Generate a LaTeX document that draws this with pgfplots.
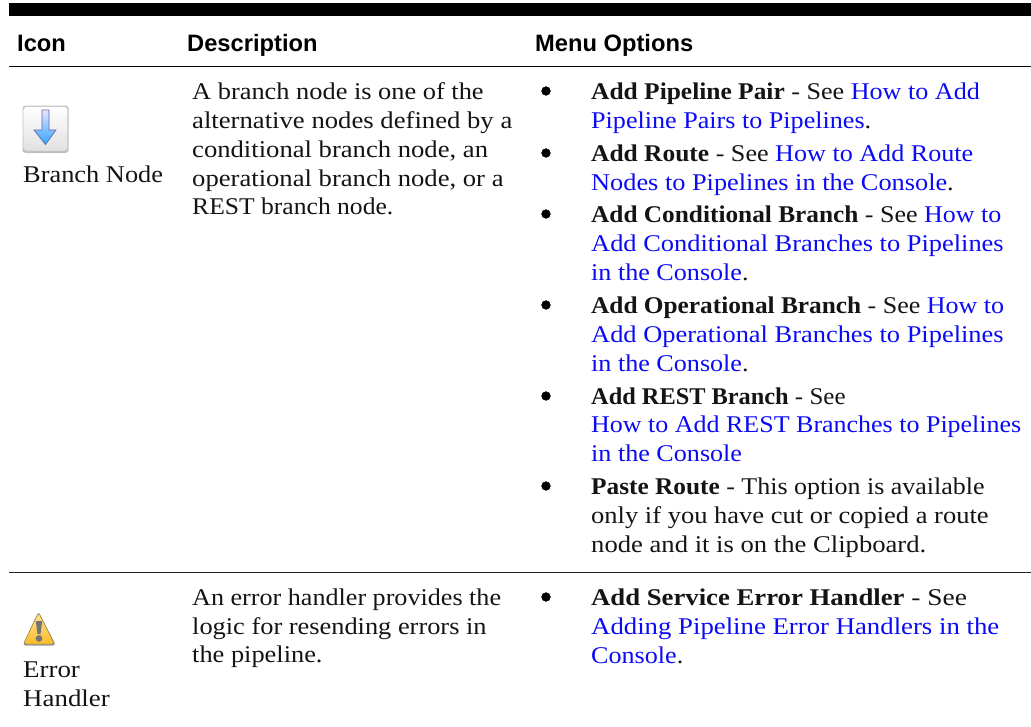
\documentclass[border=0pt]{standalone}
\usepackage{pgfplots}
\pgfplotsset{compat=1.18}
\usepackage{fontspec}
\setmainfont[FakeStretch=1.088,BoldFeatures={FakeStretch=1.06}]{Liberation Serif}
\newfontfamily\headfont{Liberation Sans}
\definecolor{linkblue}{RGB}{10,10,245}
\definecolor{ink}{RGB}{20,20,20}
\definecolor{warntop}{RGB}{250,228,160}
\definecolor{warnbot}{RGB}{250,188,40}
\newcommand{\body}{\fontsize{24}{28}\selectfont\color{ink}}
\newcommand{\lk}[1]{\textcolor{linkblue}{#1}}
\newcommand{\tl}[4][1]{\node[anchor=base west,inner sep=0pt] at (#2,#3) {\scalebox{#1}[1]{\body #4}};}
\newcommand{\hd}[2]{\node[anchor=base west,inner sep=0pt] at (#1,51) {\headfont\bfseries\fontsize{23.7}{26}\selectfont #2};}
\begin{document}
\begin{tikzpicture}
\useasboundingbox (0,0) rectangle (1031pt,726pt);
\begin{axis}[
  at={(0,0)},anchor=south west,
  scale only axis, width=1031pt, height=726pt,
  xmin=0, xmax=1031, ymin=0, ymax=726, y dir=reverse,
  axis lines=none, clip=false]
% rules
\addplot[draw=none,fill=black,forget plot] coordinates {(9,2.5) (1031,2.5) (1031,15.5) (9,15.5)} -- cycle;
\addplot[black,line width=1pt,forget plot] coordinates {(9,66.5) (1031,66.5)};
\addplot[black!85,line width=1pt,forget plot] coordinates {(9,572.5) (1031,572.5)};
% bullets
\addplot[only marks,mark=*,mark size=4.4pt,black,forget plot] coordinates
 {(546,91) (546,153) (546,214) (546,305) (546,396) (546,486) (546,597)};
% header
\hd{17}{Icon}
\hd{187}{Description}
\hd{535}{Menu Options}
% icon column
\fill[black!25,rounded corners=3pt] (22.5,105.5) rectangle (68.5,153);
\shade[top color=white,bottom color=black!12,rounded corners=3pt,draw=black!25] (23.5,106.5) rectangle (67.5,151);
\shade[top color=blue!10,bottom color=blue!45!cyan!80,draw=blue!50!black!60,line width=.7pt]
 (42,110) -- (49,110) -- (49,130) -- (56,130) -- (45.5,144.5) -- (34,130) -- (42,130) -- cycle;
\tl[1.01]{23}{182}{Branch Node}
\fill[black!40,rounded corners=3pt] (38.5,611.5) -- (56,645.5) -- (22.5,645.5) -- cycle;
\shade[top color=warntop,bottom color=warnbot,rounded corners=3pt,draw=black!35!warnbot]
 (38.5,612.5) -- (54.5,644) -- (23.5,644) -- cycle;
\fill[black!55] (35.8,621) -- (42.2,621) -- (40.5,634) -- (37.5,634) -- cycle;
\fill[black!55] (39,638.5) circle[radius=3.3];
\tl[1.03]{23}{677}{Error}
\tl[1.03]{23}{706}{Handler}
% description column
\tl[1.01]{192}{99}{A branch node is one of the}
\tl[1.022]{192}{128}{alternative nodes defined by a}
\tl[1.02]{192}{157}{conditional branch node, an}
\tl[1.02]{192}{186}{operational branch node, or a}
\tl[0.98]{192}{214}{REST branch node.}
\tl[1.0]{192}{605}{An error handler provides the}
\tl[1.01]{192}{634}{logic for resending errors in}
\tl[1.01]{192}{662}{the pipeline.}
% options column
\tl{591}{99}{\textbf{Add Pipeline Pair} - See \lk{How to Add}}
\tl{591}{128}{\lk{Pipeline Pairs to Pipelines}.}
\tl{591}{161}{\textbf{Add Route} - See \lk{How to Add Route}}
\tl[1.008]{591}{190}{\lk{Nodes to Pipelines in the Console}.}
\tl[0.995]{591}{222}{\textbf{Add Conditional Branch} - See \lk{How to}}
\tl[1.012]{591}{251}{\lk{Add Conditional Branches to Pipelines}}
\tl{591}{280}{\lk{in the Console}.}
\tl[0.995]{591}{313}{\textbf{Add Operational Branch} - See \lk{How to}}
\tl[1.012]{591}{342}{\lk{Add Operational Branches to Pipelines}}
\tl{591}{371}{\lk{in the Console}.}
\tl[0.957]{591}{404}{\textbf{Add REST Branch} - See}
\tl[0.995]{591}{432}{\lk{How to Add REST Branches to Pipelines}}
\tl{591}{461}{\lk{in the Console}}
\tl[0.995]{591}{494}{\textbf{Paste Route} - This option is available}
\tl[1.015]{591}{523}{only if you have cut or copied a route}
\tl[1.02]{591}{552}{node and it is on the Clipboard.}
\tl[1.05]{591}{605}{\textbf{Add Service Error Handler} - See}
\tl[1.025]{591}{634}{\lk{Adding Pipeline Error Handlers in the}}
\tl{591}{663}{\lk{Console}.}
\end{axis}
\end{tikzpicture}
\end{document}
